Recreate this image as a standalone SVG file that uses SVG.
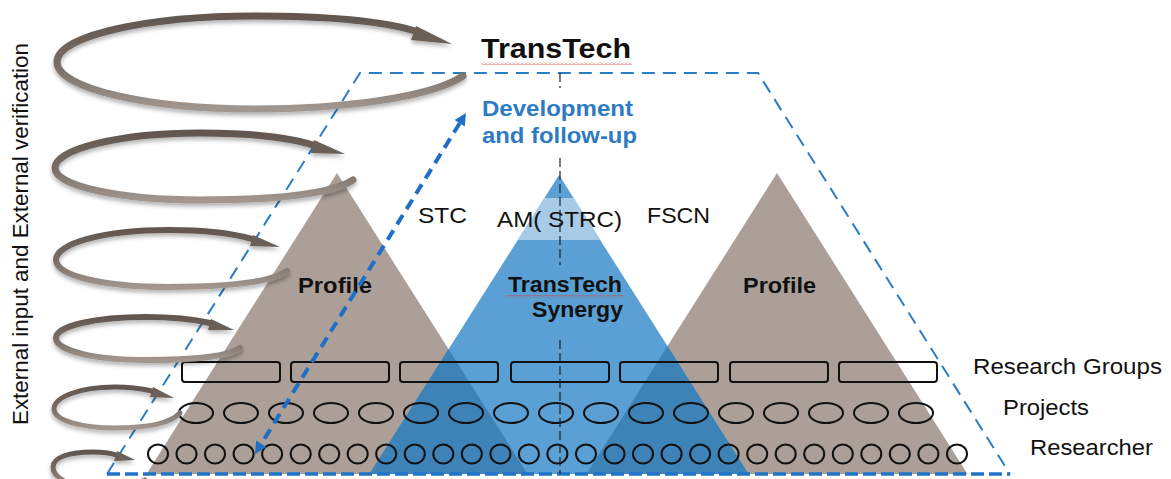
<svg xmlns="http://www.w3.org/2000/svg" width="1171" height="479" viewBox="0 0 1171 479">
<style>
.t{font-family:"Liberation Sans",Arial,sans-serif;fill:#111;font-size:22px}
.b{font-weight:bold}
.brown{fill:#ab9f97}
.blue{fill:#5aa0d5}
.ov{fill:#3e83b8}
.dash{fill:none;stroke:#2a7dc4;stroke-width:2;stroke-dasharray:13 8}
.row{fill:none;stroke:#111;stroke-width:2}
.loop{fill:none;stroke:url(#loopG);stroke-linecap:round}
.head{fill:#6b6058}
.cl{stroke:#222;stroke-width:1.2;stroke-dasharray:9 4;fill:none}
</style>
<defs>
<linearGradient id="loopG" x1="0" y1="0" x2="0" y2="1">
<stop offset="0" stop-color="#62574f"/>
<stop offset="0.55" stop-color="#7a6f67"/>
<stop offset="1" stop-color="#a1978f"/>
</linearGradient>
<filter id="sh" x="-10%" y="-20%" width="120%" height="160%">
<feDropShadow dx="0" dy="3" stdDeviation="2" flood-color="#000" flood-opacity="0.3"/>
</filter>
<pattern id="sq" width="4" height="3" patternUnits="userSpaceOnUse">
<path d="M0,2.5 L2,0.5 L4,2.5" fill="none" stroke="#e03a3a" stroke-width="0.8"/>
</pattern>
</defs>

<g id="pyramids">
<polygon class="brown" points="337,173 146.5,474 527.5,474"/>
<polygon class="brown" points="777,173 586.5,474 967.5,474"/>
<polygon class="blue" points="559,175 369.4,474 748.6,474"/>
<polygon class="ov" points="448.5,349 527.5,474 369.4,474"/>
<polygon class="ov" points="667.5,346 586.5,474 748.6,474"/>
<polygon fill="#a7cbe7" points="544.4,198 573.6,198 600.2,240 517.8,240"/>
</g>

<g id="frame">
<path class="dash" d="M107,474 L360,73 L758,73 L1010,474"/>
<path d="M107,474 L1010,474" fill="none" stroke="#1f74c8" stroke-width="3.5" stroke-dasharray="13 5"/>
</g>

<g id="research-groups">
<rect class="row" x="182" y="362" width="98" height="20" rx="3"/>
<rect class="row" x="291" y="362" width="98" height="20" rx="3"/>
<rect class="row" x="400" y="362" width="98" height="20" rx="3"/>
<rect class="row" x="511" y="362" width="98" height="20" rx="3"/>
<rect class="row" x="620" y="362" width="98" height="20" rx="3"/>
<rect class="row" x="730" y="362" width="98" height="20" rx="3"/>
<rect class="row" x="839" y="362" width="98" height="20" rx="3"/>
</g>

<g id="projects">
<ellipse class="row" cx="196" cy="413" rx="17" ry="10"/>
<ellipse class="row" cx="241" cy="413" rx="17" ry="10"/>
<ellipse class="row" cx="286" cy="413" rx="17" ry="10"/>
<ellipse class="row" cx="331" cy="413" rx="17" ry="10"/>
<ellipse class="row" cx="376" cy="413" rx="17" ry="10"/>
<ellipse class="row" cx="421" cy="413" rx="17" ry="10"/>
<ellipse class="row" cx="466" cy="413" rx="17" ry="10"/>
<ellipse class="row" cx="511" cy="413" rx="17" ry="10"/>
<ellipse class="row" cx="556" cy="413" rx="17" ry="10"/>
<ellipse class="row" cx="601" cy="413" rx="17" ry="10"/>
<ellipse class="row" cx="646" cy="413" rx="17" ry="10"/>
<ellipse class="row" cx="691" cy="413" rx="17" ry="10"/>
<ellipse class="row" cx="736" cy="413" rx="17" ry="10"/>
<ellipse class="row" cx="781" cy="413" rx="17" ry="10"/>
<ellipse class="row" cx="826" cy="413" rx="17" ry="10"/>
<ellipse class="row" cx="871" cy="413" rx="17" ry="10"/>
<ellipse class="row" cx="916" cy="413" rx="17" ry="10"/>
</g>

<g id="researchers">
<ellipse class="row" cx="158" cy="454" rx="10" ry="9.5"/>
<ellipse class="row" cx="186.5" cy="454" rx="10" ry="9.5"/>
<ellipse class="row" cx="215" cy="454" rx="10" ry="9.5"/>
<ellipse class="row" cx="243.6" cy="454" rx="10" ry="9.5"/>
<ellipse class="row" cx="272.1" cy="454" rx="10" ry="9.5"/>
<ellipse class="row" cx="300.7" cy="454" rx="10" ry="9.5"/>
<ellipse class="row" cx="329.2" cy="454" rx="10" ry="9.5"/>
<ellipse class="row" cx="357.7" cy="454" rx="10" ry="9.5"/>
<ellipse class="row" cx="386.2" cy="454" rx="10" ry="9.5"/>
<ellipse class="row" cx="414.8" cy="454" rx="10" ry="9.5"/>
<ellipse class="row" cx="443.3" cy="454" rx="10" ry="9.5"/>
<ellipse class="row" cx="471.8" cy="454" rx="10" ry="9.5"/>
<ellipse class="row" cx="500.4" cy="454" rx="10" ry="9.5"/>
<ellipse class="row" cx="528.9" cy="454" rx="10" ry="9.5"/>
<ellipse class="row" cx="557.4" cy="454" rx="10" ry="9.5"/>
<ellipse class="row" cx="586" cy="454" rx="10" ry="9.5"/>
<ellipse class="row" cx="614.5" cy="454" rx="10" ry="9.5"/>
<ellipse class="row" cx="643" cy="454" rx="10" ry="9.5"/>
<ellipse class="row" cx="671.6" cy="454" rx="10" ry="9.5"/>
<ellipse class="row" cx="700.1" cy="454" rx="10" ry="9.5"/>
<ellipse class="row" cx="728.6" cy="454" rx="10" ry="9.5"/>
<ellipse class="row" cx="757.2" cy="454" rx="10" ry="9.5"/>
<ellipse class="row" cx="785.7" cy="454" rx="10" ry="9.5"/>
<ellipse class="row" cx="814.2" cy="454" rx="10" ry="9.5"/>
<ellipse class="row" cx="842.8" cy="454" rx="10" ry="9.5"/>
<ellipse class="row" cx="871.3" cy="454" rx="10" ry="9.5"/>
<ellipse class="row" cx="899.8" cy="454" rx="10" ry="9.5"/>
<ellipse class="row" cx="928.4" cy="454" rx="10" ry="9.5"/>
<ellipse class="row" cx="957" cy="454" rx="10" ry="9.5"/>
</g>

<g id="centerline">
<path class="cl" d="M560,73 V88 M560,158 V265 M560,340 V474"/>
</g>

<g id="labels">
<text class="t b" x="481" y="58" font-size="28" textLength="150" lengthAdjust="spacingAndGlyphs" style="font-size:28px">TransTech</text>
<rect x="482" y="62" width="150" height="3" fill="url(#sq)"/>
<text class="t b" x="482" y="116" textLength="151" lengthAdjust="spacingAndGlyphs" style="fill:#2e7bc4">Development</text>
<text class="t b" x="482" y="143" textLength="155" lengthAdjust="spacingAndGlyphs" style="fill:#2e7bc4">and follow-up</text>
<text class="t" x="418" y="223" textLength="49" lengthAdjust="spacingAndGlyphs">STC</text>
<text class="t" x="497" y="227" textLength="125" lengthAdjust="spacingAndGlyphs">AM( STRC)</text>
<text class="t" x="647" y="223" textLength="63" lengthAdjust="spacingAndGlyphs">FSCN</text>
<text class="t b" x="298" y="293" textLength="74" lengthAdjust="spacingAndGlyphs">Profile</text>
<text class="t b" x="743" y="293" textLength="73" lengthAdjust="spacingAndGlyphs">Profile</text>
<text class="t b" x="508" y="292" textLength="114" lengthAdjust="spacingAndGlyphs">TransTech</text>
<rect x="506" y="295" width="117" height="3" fill="url(#sq)"/>
<text class="t b" x="532" y="317" textLength="91" lengthAdjust="spacingAndGlyphs">Synergy</text>
<text class="t" x="973" y="374" textLength="189" lengthAdjust="spacingAndGlyphs">Research Groups</text>
<text class="t" x="1003" y="415" textLength="86" lengthAdjust="spacingAndGlyphs">Projects</text>
<text class="t" x="1030" y="455" textLength="123" lengthAdjust="spacingAndGlyphs">Researcher</text>
<text class="t" transform="translate(28,425) rotate(-90)" textLength="382" lengthAdjust="spacingAndGlyphs">External input and External verification</text>
</g>

<g id="loops" filter="url(#sh)">
<g id="loop1">
<path class="loop" stroke-width="7" d="M463,76 C430,98 340,109 255,109 C146,109 57,88 57,62 C57,36 146,16 255,16 C330,16 385,22 415,31"/>
<polygon class="head" points="452,44 416,26 411,40"/>
</g>
<g id="loop2">
<path class="loop" stroke-width="7" d="M353,180 C330,195 270,200 200,200 C120,200 55,186 55,168 C55,149 120,133 200,133 C255,133 290,138 313,145"/>
<polygon class="head" points="345,154 314,140 311,153"/>
</g>
<g id="loop3">
<path class="loop" stroke-width="6" d="M287,271 C270,283 220,287 168,287 C105,287 56,276 56,260 C56,243 105,230 168,230 C205,230 235,234 252,239"/>
<polygon class="head" points="280,247 253,235 250,246"/>
</g>
<g id="loop4">
<path class="loop" stroke-width="6" d="M240,348 C228,357 190,360 146,360 C95,360 56,351 56,338 C56,326 95,317 146,317 C175,317 197,320 210,323"/>
<polygon class="head" points="234,330 211,319 208,330"/>
</g>
<g id="loop5">
<path class="loop" stroke-width="5" d="M180,413 C170,424 145,428 115,428 C80,428 54,420 54,409 C54,397 80,387 115,387 C132,387 143,389 152,391"/>
<polygon class="head" points="174,398 153,387 150,397"/>
</g>
<g id="loop6">
<path class="loop" stroke-width="5" d="M145,480 C135,486 115,487 93,487 C70,487 53,478 53,467 C53,457 70,452 93,452 C103,452 110,453 116,455"/>
<polygon class="head" points="135,460 117,451 114,461"/>
</g>
</g>

<g id="connectors">
<path d="M459.7,123.2 L261.3,443.8" fill="none" stroke="#1f6fc6" stroke-width="4" stroke-dasharray="11 7"/>
<polygon fill="#1f6fc6" points="466,113 464.8,126.4 454.6,120"/>
<polygon fill="#1f6fc6" points="255,454 266.4,447 256.2,440.6"/>
</g>
</svg>
